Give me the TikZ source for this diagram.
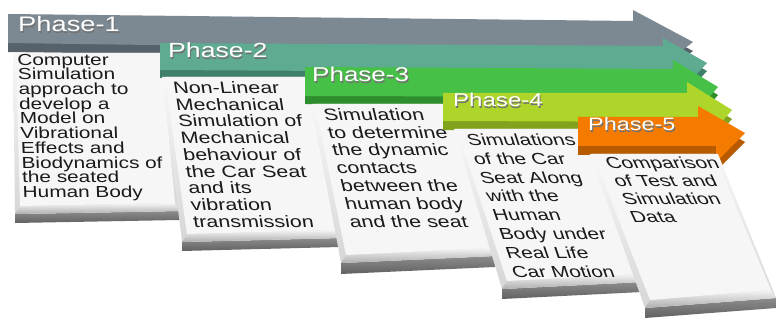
\documentclass[tikz,border=0pt]{standalone}
\usepackage{fontspec}
\newfontfamily\bodyfont[FakeStretch=1.3]{Liberation Sans}
\usetikzlibrary{calc}
\definecolor{grayF}{HTML}{7C8992}
\definecolor{grayD}{HTML}{56616A}
\definecolor{tealF}{HTML}{5EAB92}
\definecolor{tealD}{HTML}{3F806B}
\definecolor{greenF}{HTML}{46C046}
\definecolor{greenD}{HTML}{2E8E2E}
\definecolor{limeF}{HTML}{ADD52A}
\definecolor{limeD}{HTML}{80A21C}
\definecolor{orangeF}{HTML}{F47B00}
\definecolor{orangeD}{HTML}{B85A00}
\definecolor{boxface}{HTML}{F6F6F6}
\definecolor{txt}{HTML}{1A1A1A}
\tikzset{
  btext/.style={text=txt, align=left, inner sep=0pt, anchor=north west, transform shape},
  phlabel/.style={text=white, anchor=base west, inner sep=0pt},
  phshadow/.style={text=black!55, anchor=base west, inner sep=0pt},
}
% band: prefix, face colour, dark colour, extrusion
\newcommand\drawband[4]{%
  \fill[#3] ($(#11)+(0,#4)$) -- ($(#12)+(0,#4)$) -- ($(#13)+(0,#4)$) -- ($(#14)+(0,#4)$) -- ($(#15)+(0,#4)$) -- ($(#16)+(0,#4)$) -- ($(#17)+(0,#4)$) -- cycle;
  \fill[#2] (#11) -- (#12) -- (#13) -- (#14) -- (#15) -- (#16) -- (#17) -- cycle;
}
% box: prefix, dark thickness
\newcommand\drawbox[2]{%
  \shade[top color=black!45, bottom color=black!62] (#1bl) -- (#1br) -- ($(#1br)+(0,#2)$) -- ($(#1bl)+(0,#2)$) -- cycle;
  \shade[top color=black!3, bottom color=black!16] (#1tl) -- (#1tr) -- (#1br) -- (#1bl) -- cycle;
  \shade[top color=black!4, bottom color=black!32] ($(#1bl)+(5,-8)$) -- ($(#1br)+(-5,-8)$) -- (#1br) -- (#1bl) -- cycle;
  \fill[boxface] ($(#1tl)+(3,0)$) -- ($(#1tr)+(-4,0)$) -- ($(#1br)+(-5,-8)$) -- ($(#1bl)+(5,-8)$) -- cycle;
}
% text: name, x, top y, slant, leading, size, text
\newcommand\boxtext[7]{%
  \begin{scope}[shift={(#2,#3)}, xslant=#4]
    \node[btext, font={\lineskiplimit=-50pt\fontsize{#6}{#5}\selectfont\bodyfont}] (#1) at (0,0) {#7};
  \end{scope}}
% phase label: name, x, baseline y, size, text
\newcommand\phaselabel[5]{%
  \node[phshadow, font={\fontsize{#4}{#4}\selectfont\bodyfont}] (#1s) at (#2+1,#3+1.2) {#5};
  \node[phlabel, font={\fontsize{#4}{#4}\selectfont\bodyfont}] (#1) at (#2,#3) {#5};
}
\begin{document}
\begin{tikzpicture}[x=1pt,y=-1pt]
\useasboundingbox (0,0) rectangle (779,320);
% band coordinates
\coordinate (a1) at (8,14);   \coordinate (a2) at (633,21); \coordinate (a3) at (633,10);
\coordinate (a4) at (693,42); \coordinate (a5) at (652,74); \coordinate (a6) at (652,52);
\coordinate (a7) at (8,43);
\coordinate (b1) at (160,43); \coordinate (b2) at (663,46); \coordinate (b3) at (663,38);
\coordinate (b4) at (707,63); \coordinate (b5) at (680,92); \coordinate (b6) at (680,73);
\coordinate (b7) at (160,70);
\coordinate (c1) at (305,67); \coordinate (c2) at (673,69); \coordinate (c3) at (673,60);
\coordinate (c4) at (718,87); \coordinate (c5) at (692,117); \coordinate (c6) at (692,97);
\coordinate (c7) at (305,96);
\coordinate (d1) at (443,93); \coordinate (d2) at (687,93); \coordinate (d3) at (687,82);
\coordinate (d4) at (732,110); \coordinate (d5) at (706,140); \coordinate (d6) at (706,122);
\coordinate (d7) at (443,121);
\coordinate (e1) at (578,117); \coordinate (e2) at (698,117); \coordinate (e3) at (698,106);
\coordinate (e4) at (745,133); \coordinate (e5) at (716,162); \coordinate (e6) at (716,146);
\coordinate (e7) at (578,146);
% box coordinates
\coordinate (p1tl) at (13,53);  \coordinate (p1tr) at (165,53);  \coordinate (p1br) at (180,211); \coordinate (p1bl) at (15,214);
\coordinate (p2tl) at (162,77); \coordinate (p2tr) at (310,77);  \coordinate (p2br) at (340,238); \coordinate (p2bl) at (182,242);
\coordinate (p3tl) at (312,104); \coordinate (p3tr) at (455,104); \coordinate (p3br) at (495,256); \coordinate (p3bl) at (341,263);
\coordinate (p4tl) at (454,129); \coordinate (p4tr) at (590,129); \coordinate (p4br) at (642,282); \coordinate (p4bl) at (502,289);
\coordinate (p5tl) at (590,154); \coordinate (p5tr) at (718,154); \coordinate (p5br) at (776,298); \coordinate (p5bl) at (645,308);

\drawband{a}{grayF}{grayD}{9}
\phaselabel{ph1}{18}{32}{21}{Phase-1}
\drawbox{p1}{9}
\boxtext{t1}{17}{53.8}{-0.04}{14.7}{16}{Computer\\Simulation\\approach to\\develop a\\Model on\\Vibrational\\Effects and\\Biodynamics of\\the seated\\Human Body}

\drawband{b}{tealF}{tealD}{8}
\phaselabel{ph2}{168}{58}{20.5}{Phase-2}
\drawbox{p2}{9}
\boxtext{t2}{172}{81.2}{-0.15}{16.75}{16.5}{Non-Linear\\Mechanical\\Simulation of\\Mechanical\\behaviour of\\the Car Seat\\and its\\vibration\\transmission}

\drawband{c}{greenF}{greenD}{8}
\phaselabel{ph3}{312}{82}{20}{Phase-3}
\drawbox{p3}{11}
\boxtext{t3}{322}{108.2}{-0.24}{17.8}{16.5}{Simulation\\to determine\\the dynamic\\contacts\\between the\\human body\\and the seat}

\drawband{d}{limeF}{limeD}{9}
\phaselabel{ph4}{453}{107}{18.5}{Phase-4}
\drawbox{p4}{10}
\boxtext{t4}{465}{133.5}{-0.34}{18.9}{16}{Simulations\\of the Car\\Seat Along\\with the\\Human\\Body under\\Real Life\\Car Motion}

\drawband{e}{orangeF}{orangeD}{9}
\phaselabel{ph5}{588}{131}{18}{Phase-5}
\drawbox{p5}{10}
\boxtext{t5}{603}{156.5}{-0.46}{18}{16}{Comparison\\of Test and\\Simulation\\Data}
\end{tikzpicture}
\end{document}
